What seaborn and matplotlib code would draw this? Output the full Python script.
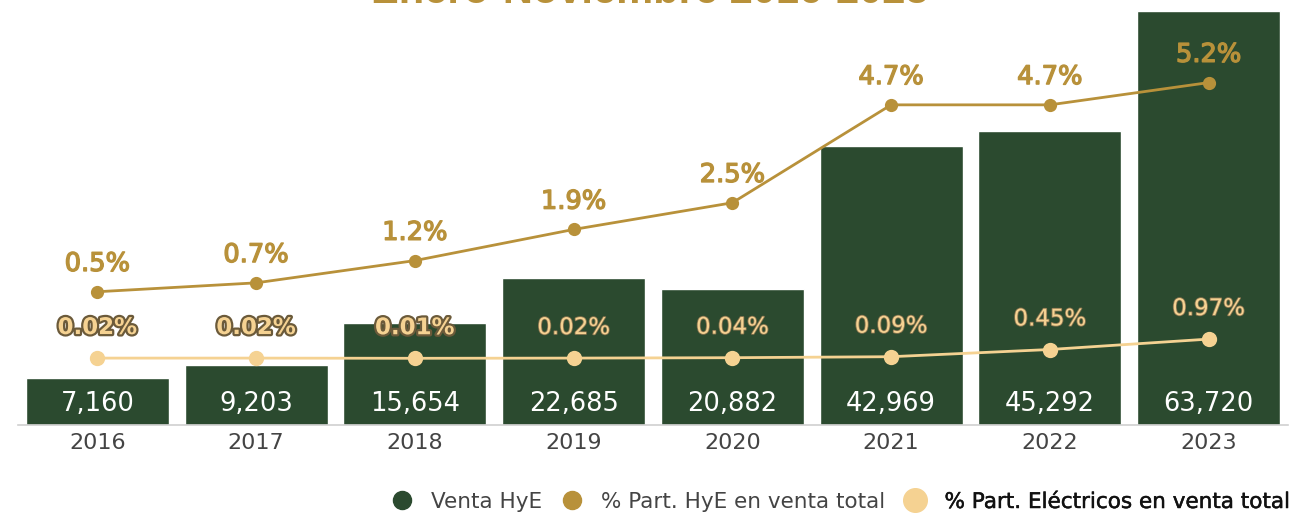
import matplotlib
matplotlib.use("Agg")
import matplotlib.pyplot as plt
import matplotlib.patheffects as pe
from matplotlib.lines import Line2D
import seaborn as sns
import pandas as pd
import numpy as np

# Data
years = ["2016", "2017", "2018", "2019", "2020", "2021", "2022", "2023"]
venta_hye = [7160, 9203, 15654, 22685, 20882, 42969, 45292, 63720]
part_hye = [0.5, 0.7, 1.2, 1.9, 2.5, 4.7, 4.7, 5.2]
part_elec = [0.02, 0.02, 0.01, 0.02, 0.04, 0.09, 0.45, 0.97]
part_elec_labels = ["0.02%", "0.02%", "0.01%", "0.02%", "0.04%", "0.09%", "0.45%", "0.97%"]

title = "Enero-Noviembre 2016-2023"
legend_labels = ["Venta HyE", "% Part. HyE en venta total", "% Part. Eléctricos en venta total"]

GREEN = "#2b4a2f"
GOLD = "#b8913a"
LIGHT = "#f5d292"
TEXT_GRAY = "#444444"

sns.set_theme(style="white")
plt.rcParams["font.family"] = ["DejaVu Sans"]

df = pd.DataFrame({"year": years, "venta": venta_hye, "hye": part_hye, "elec": part_elec})

W, H = 1299, 514
fig = plt.figure(figsize=(W / 100, H / 100), dpi=100)
base_y = 425
ax = fig.add_axes([18 / W, 1 - base_y / H, (1288 - 18) / W, base_y / H])

# Bars
sns.barplot(data=df, x="year", y="venta", color=GREEN, width=0.9, saturation=1,
            ax=ax, zorder=1)
ax.set_ylim(0, base_y / 6.5 * 1000)
ax.set_xlim(-0.5, len(years) - 0.5)
for i, v in enumerate(venta_hye):
    ax.annotate(f"{v:,}", (i, 0), xytext=(0, 15), textcoords="offset points",
                ha="center", va="center", color="white", fontsize=18.5, zorder=5)

ax.set_xlabel("")
ax.set_ylabel("")
ax.set_yticks([])
ax.tick_params(axis="x", length=0, pad=6, labelsize=16, labelcolor=TEXT_GRAY)
for s in ["top", "left", "right"]:
    ax.spines[s].set_visible(False)
ax.spines["bottom"].set_color("#d0d0d0")
ax.spines["bottom"].set_linewidth(1.2)

# % Part. HyE line
ax2 = ax.twinx()
sns.pointplot(data=df, x="year", y="hye", color=GOLD, markers="o", markersize=8,
              linewidth=2.0, ax=ax2, zorder=3)
ax2.set_ylim(-111 / 44.5, 314 / 44.5)
for i, v in enumerate(part_hye):
    ax2.annotate(f"{v:.1f}%", (i, v), xytext=(0, 20), textcoords="offset points",
                 ha="center", va="center", color=GOLD, fontsize=18.5,
                 path_effects=[pe.withStroke(linewidth=1.0, foreground=GOLD)])

# % Part. Eléctricos line
ax3 = ax.twinx()
sns.pointplot(data=df, x="year", y="elec", color=LIGHT, markers="o", markersize=9.5,
              linewidth=2.0, ax=ax3, zorder=3)
ax3.set_ylim(-66.5 / 20, 358.5 / 20)
for i, (v, lab) in enumerate(zip(part_elec, part_elec_labels)):
    if i < 3:
        effects = [pe.withStroke(linewidth=3.2, foreground="#6b5a3a")]
        weight = "bold"
    else:
        effects = [pe.withStroke(linewidth=1.2, foreground="#8a7550")]
        weight = "normal"
    ax3.annotate(lab, (i, v), xytext=(0, 22), textcoords="offset points",
                 ha="center", va="center", color=LIGHT, fontsize=16.5,
                 fontweight=weight, path_effects=effects)

for a in (ax2, ax3):
    a.set_xlim(-0.5, len(years) - 0.5)
    a.set_yticks([])
    a.set_ylabel("")
    a.set_xlabel("")
    for s in a.spines.values():
        s.set_visible(False)

# Title (runs past the top edge of the canvas)
fig.text(0.5, 1 - 3 / H, title, ha="center", va="baseline", color=GOLD,
         fontsize=30, fontweight="bold", family="Liberation Sans")

# Legend
handles = [
    Line2D([], [], linestyle="none", marker="o", markersize=13, color=GREEN),
    Line2D([], [], linestyle="none", marker="o", markersize=13, color=GOLD),
    Line2D([], [], linestyle="none", marker="o", markersize=17, color=LIGHT),
]
leg = fig.legend(handles, legend_labels, loc="center left",
                 bbox_to_anchor=(391 / W, 1 - 502 / H), ncol=3, frameon=False,
                 fontsize=15.5, handlelength=1.0, handletextpad=0.85,
                 columnspacing=0.9, borderaxespad=0, borderpad=0)
texts = leg.get_texts()
texts[0].set_color(TEXT_GRAY)
texts[1].set_color(TEXT_GRAY)
texts[2].set_color("#111111")
texts[2].set_path_effects([pe.withStroke(linewidth=0.35, foreground="#111111")])

fig.savefig("out.png", dpi=100)
